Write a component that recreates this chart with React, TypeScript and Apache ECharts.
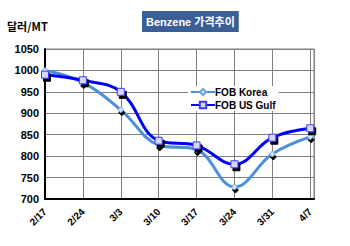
import React, { useEffect, useRef } from "react";
import * as echarts from "echarts";

const categories = ["2/17", "2/24", "3/3", "3/10", "3/17", "3/24", "3/31", "4/7"];
const koreaValues = [1000, 972, 908, 826, 815, 728, 805, 845];
const gulfValues = [990, 977, 950, 836, 825, 781, 843, 865];
const yTicks = { min: 700, max: 1050, interval: 50 };

export default function App() {
  const ref = useRef<HTMLDivElement>(null);
  useEffect(() => {
    if (!ref.current) return;
    const chart = echarts.init(ref.current, null, { renderer: "svg" });
    const font = "Arial, 'Liberation Sans', sans-serif";
    chart.setOption({
      animation: false,
      backgroundColor: "#ffffff",
      textStyle: { fontFamily: font },
      title: {
        text: "Benzene 가격추이",
        left: 142,
        top: 11,
        backgroundColor: "#3a5f97",
        padding: [5, 4, 5, 4],
        textStyle: {
          color: "#ffffff",
          fontSize: 11,
          fontWeight: "bold",
          fontFamily: "Arial, 'Noto Sans CJK KR', sans-serif",
        },
      },
      legend: {
        orient: "vertical",
        left: 188,
        top: 86,
        itemGap: 3,
        itemWidth: 24,
        itemHeight: 8,
        backgroundColor: "#ffffff",
        padding: [1, 3, 1, 2],
        textStyle: { fontSize: 10, fontWeight: "bold", color: "#000", padding: [0, 0, 0, -5] },
        data: ["FOB Korea", "FOB US Gulf"],
      },
      grid: {
        left: 45,
        top: 49,
        right: 36,
        bottom: 47,
        show: true,
        borderColor: "#808080",
        borderWidth: 1,
      },
      xAxis: {
        type: "value",
        min: 0,
        max: 7.1,
        interval: 1,
        axisLine: { show: true, onZero: false, lineStyle: { color: "#000", width: 2 } },
        axisTick: { show: false },
        splitLine: { show: true, lineStyle: { color: "#808080", width: 1 } },
        axisLabel: {
          rotate: 45,
          fontSize: 10,
          fontWeight: "bold",
          color: "#000",
          margin: 11,
          showMaxLabel: false,
          formatter: (v: number) => (Number.isInteger(v) && categories[v]) ? categories[v] : "",
        },
      },
      yAxis: {
        type: "value",
        min: yTicks.min,
        max: yTicks.max,
        interval: yTicks.interval,
        name: "달러/MT",
        nameLocation: "end",
        nameGap: 18,
        nameTextStyle: {
          fontSize: 11,
          fontWeight: "bold",
          color: "#000",
          align: "left",
          padding: [0, 0, 0, -38],
          fontFamily: "'Noto Sans CJK KR', Arial, sans-serif",
        },
        axisLine: { show: true, lineStyle: { color: "#000", width: 2 } },
        axisTick: { show: false },
        splitLine: { show: true, lineStyle: { color: "#808080", width: 1 } },
        axisLabel: { fontSize: 11, fontWeight: "bold", color: "#000", margin: 6, formatter: (v: number) => String(v) },
      },
      series: [
        {
          name: "FOB Korea",
          type: "line",
          smooth: 0.4,
          data: koreaValues.map((v, i) => [i, v]),
          symbol: "diamond",
          symbolSize: 6,
          lineStyle: { color: "#4a8fdb", width: 3 },
          itemStyle: {
            color: "#d8e6f8",
            borderColor: "#6aa2e4",
            borderWidth: 1,
            shadowColor: "#000",
            shadowOffsetX: 1,
            shadowOffsetY: 3,
            shadowBlur: 0,
          },
          z: 2,
        },
        {
          name: "FOB US Gulf",
          type: "line",
          smooth: 0.4,
          data: gulfValues.map((v, i) => [i, v]),
          symbol: "rect",
          symbolSize: 7,
          lineStyle: { color: "#0000ff", width: 3 },
          itemStyle: {
            color: "#d8d8ff",
            borderColor: "#3a3aff",
            borderWidth: 1,
            shadowColor: "#000",
            shadowOffsetX: 2,
            shadowOffsetY: 3,
            shadowBlur: 0,
          },
          z: 3,
        },
      ],
    });
    return () => chart.dispose();
  }, []);
  return <div ref={ref} style={{ width: 350, height: 246, position: "absolute", left: 0, top: 0 }} />;
}
